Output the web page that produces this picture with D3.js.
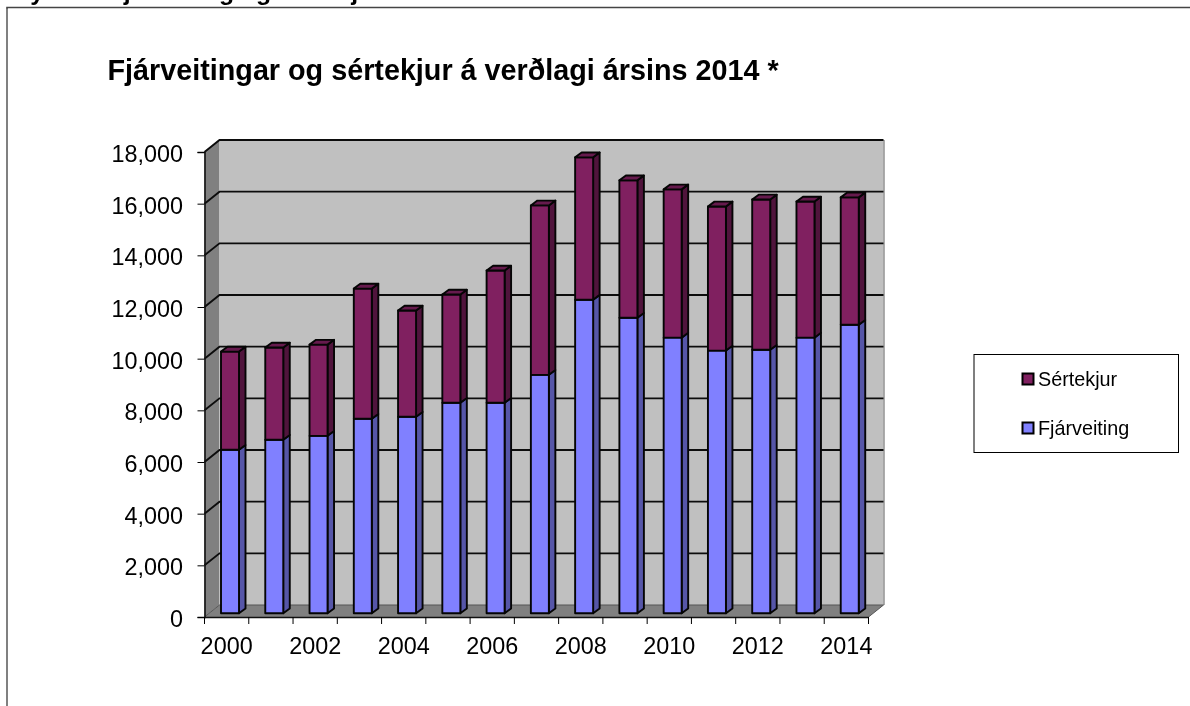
<!DOCTYPE html>
<html><head><meta charset="utf-8">
<script src="https://cdn.jsdelivr.net/npm/d3@7/dist/d3.min.js"></script>
<style>html,body{margin:0;padding:0;background:#fff;overflow:hidden}svg{display:block;filter:blur(0.35px)}text{font-family:"Liberation Sans",Arial,sans-serif;fill:#000}</style>
</head><body><svg id="c" width="1190" height="706"></svg>
<script>
const years = [2000,2001,2002,2003,2004,2005,2006,2007,2008,2009,2010,2011,2012,2013,2014];
const fjarveiting = [6330,6720,6870,7530,7610,8150,8150,9230,12140,11440,10670,10170,10200,10670,11170];
const sertekjur = [3800,3570,3530,5040,4110,4190,5120,6560,5510,5320,5740,5580,5820,5270,4930];
const yTicks = [0,2000,4000,6000,8000,10000,12000,14000,16000,18000];
const seriesNames = ["Fjárveiting","Sértekjur"];
const seriesColors = {"Fjárveiting":{front:"#8080ff",side:"#5656a8"},"Sértekjur":{front:"#802060",side:"#50143c",top:"#661a4d"}};
const chartTitle = "Fjárveitingar og sértekjur á verðlagi ársins 2014 *";
const cutTitle = "Mynd 1. Fjárveiting og sértekjur 2000-2014";

const svg = d3.select("#c");
const x = d3.scaleBand().domain(years).range([204.5,868.5]);
const y = d3.scaleLinear().domain([0,18000]).range([617,152]);
const wall = {dx:15,dy:-12}, bar = {dx:6.5,dy:-4.8,inset:16.5,w:18,lift:-3.7};
const line = d3.line();

// clipped caption and outer frame
svg.append("text").attr("x",9.5).attr("y",-0.5).attr("font-size",24.8).attr("font-weight","bold").text(cutTitle);
svg.append("path").attr("d","M7,706V7.5H1190").attr("fill","none").attr("stroke","#444").attr("stroke-width",1.6);
svg.append("path").attr("d","M7,706V9").attr("fill","none").attr("stroke","#808080").attr("stroke-width",2);

svg.append("text").attr("x",107.5).attr("y",79.5).attr("font-size",28.75).attr("font-weight","bold").text(chartTitle);

// walls
const [xL,xR] = x.range(), y0=y(0), yT=y(18000);
svg.append("path").attr("fill","#808080").attr("d",line([[xL,yT],[xL+wall.dx,yT+wall.dy],[xL+wall.dx,y0+wall.dy],[xL,y0]]));
svg.append("path").attr("fill","#c0c0c0").attr("d",line([[xL+wall.dx,yT+wall.dy],[xR+wall.dx,yT+wall.dy],[xR+wall.dx,y0+wall.dy],[xL+wall.dx,y0+wall.dy]]));
svg.append("path").attr("stroke","#909090").attr("stroke-width",1.5).attr("fill","none").attr("d",line([[xR+wall.dx+.5,yT+wall.dy],[xR+wall.dx+.5,y0+wall.dy]]));
svg.append("path").attr("fill","#808080").attr("d",line([[xL,y0],[xL+wall.dx,y0+wall.dy],[xR+wall.dx,y0+wall.dy],[xR,y0]]));

// gridlines
svg.append("g").selectAll("path").data(yTicks.filter(d=>d>0)).join("path")
  .attr("fill","none").attr("stroke","#0c0c0c").attr("stroke-width",1.9)
  .attr("d",d=>line([[xL,y(d)],[xL+wall.dx,y(d)+wall.dy],[xR+wall.dx,y(d)+wall.dy]]));
svg.append("path").attr("fill","none").attr("stroke","#555").attr("stroke-width",1)
  .attr("d",line([[xL,y0],[xL+wall.dx,y0+wall.dy],[xR+wall.dx,y0+wall.dy],[xR,y0]]));

// stacked 3D bars
const rows = years.map((yr,i)=>({year:yr,"Fjárveiting":fjarveiting[i],"Sértekjur":sertekjur[i]}));
const stack = d3.stack().keys(seriesNames)(rows);
const barsG = svg.append("g").attr("stroke","#050505").attr("stroke-width",1.9).attr("stroke-linejoin","round");
years.forEach((yr,i)=>{
  const l = x(yr)+bar.inset, r = l+bar.w;
  stack.forEach(s=>{
    const [a,b] = s[i], c = seriesColors[s.key];
    const ya = y(a)+bar.lift, yb = y(b)+bar.lift;
    barsG.append("path").attr("fill",c.side).attr("d",line([[r,yb],[r+bar.dx,yb+bar.dy],[r+bar.dx,ya+bar.dy],[r,ya]])+"Z");
    barsG.append("path").attr("fill",c.front).attr("d",line([[l,yb],[r,yb],[r,ya],[l,ya]])+"Z");
    if(c.top) barsG.append("path").attr("fill",c.top).attr("d",line([[l,yb],[l+bar.dx,yb+bar.dy],[r+bar.dx,yb+bar.dy],[r,yb]])+"Z");
  });
});

// axes
const yAxis = svg.append("g").attr("transform",`translate(${xL},0)`)
  .call(d3.axisLeft(y).tickValues(yTicks).tickFormat(d3.format(",")).tickSize(7).tickPadding(14.5));
const xAxis = svg.append("g").attr("transform",`translate(0,${y0})`)
  .call(d3.axisBottom(x).tickValues(years.filter(d=>d%2===0)).tickFormat(d3.format("d")).tickSize(0).tickPadding(20));
svg.append("g").selectAll("line").data(years.map(d=>x(d)).concat([xR])).join("line")
  .attr("x1",d=>d).attr("x2",d=>d).attr("y1",y0).attr("y2",y0+7).attr("stroke","#000").attr("stroke-width",1);
[yAxis,xAxis].forEach(g=>{
  g.selectAll("text").attr("font-size",23.4).attr("font-family","Liberation Sans").attr("fill","#000");
  g.selectAll("line").attr("stroke","#000");
  g.select(".domain").attr("stroke","#111").attr("stroke-width",1.6);
});
xAxis.selectAll("text").attr("dy","0.71em");
yAxis.selectAll("text").attr("dy","0.4em");

// legend
const legend = svg.append("g");
legend.append("rect").attr("x",974).attr("y",354.5).attr("width",204.5).attr("height",98).attr("fill","#fff").attr("stroke","#000").attr("stroke-width",1);
const legendY = d3.scalePoint().domain(["Sértekjur","Fjárveiting"]).range([379,428]);
const items = legend.selectAll("g").data(legendY.domain()).join("g").attr("transform",d=>`translate(0,${legendY(d)})`);
items.append("rect").attr("x",1022.5).attr("y",-5.5).attr("width",11).attr("height",11)
  .attr("fill",d=>seriesColors[d].front).attr("stroke","#000").attr("stroke-width",2);
items.append("text").attr("x",1038).attr("y",7).attr("font-size",19.8).text(d=>d);
</script></body></html>
